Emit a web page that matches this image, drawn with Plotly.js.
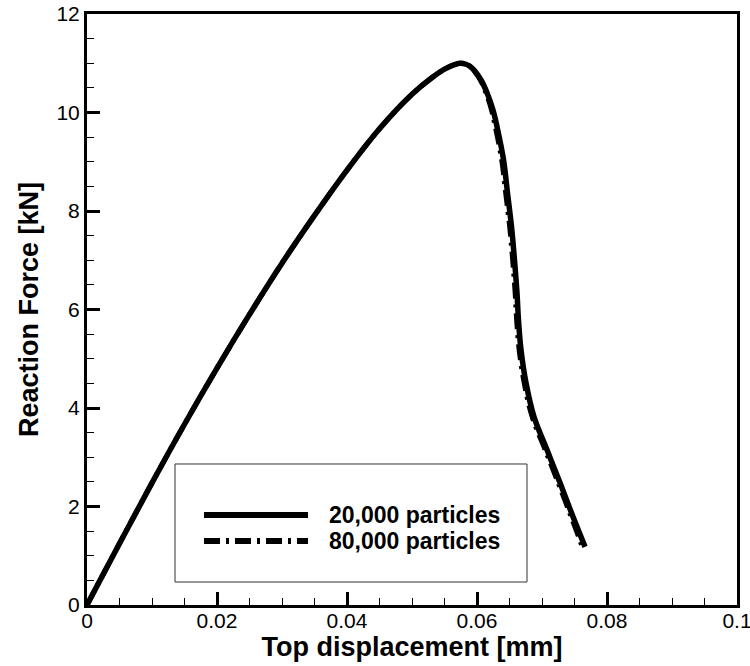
<!DOCTYPE html>
<html>
<head>
<meta charset="utf-8">
<script src="https://cdn.plot.ly/plotly-3.0.1.min.js"></script>
<style>
  html, body { margin: 0; padding: 0; background: #ffffff; }
  #chart { width: 750px; height: 666px; }
</style>
</head>
<body>
<div id="chart"></div>
<script>
// Top displacement [mm] and reaction force [kN]
const seriesNames = ["20,000 particles", "80,000 particles"];

const disp20k = [0, 0.005, 0.01, 0.015, 0.02, 0.025, 0.03, 0.035, 0.04, 0.045, 0.05, 0.053, 0.055, 0.0565, 0.05738, 0.0583, 0.0590, 0.05954, 0.06062, 0.06154, 0.06246, 0.06308, 0.06408, 0.06469, 0.06531, 0.06577, 0.06615, 0.06638, 0.06677, 0.06754, 0.06877, 0.07077, 0.07277, 0.07477, 0.07662];
const force20k = [0, 1.25, 2.48, 3.67, 4.81, 5.90, 6.94, 7.91, 8.83, 9.67, 10.37, 10.70, 10.88, 10.97, 11.0, 10.98, 10.93, 10.86, 10.66, 10.40, 10.05, 9.71, 9.04, 8.37, 7.68, 7.0, 6.34, 5.79, 5.18, 4.51, 3.82, 3.15, 2.48, 1.79, 1.18];

const disp80k = [0, 0.005, 0.01, 0.015, 0.02, 0.025, 0.03, 0.035, 0.04, 0.045, 0.05, 0.053, 0.055, 0.0565, 0.05738, 0.0583, 0.0590, 0.05950, 0.06052, 0.06138, 0.06224, 0.06282, 0.06380, 0.06441, 0.06503, 0.06549, 0.06587, 0.06610, 0.06649, 0.06726, 0.06849, 0.07049, 0.07249, 0.07449, 0.07635];
const force80k = [0, 1.25, 2.48, 3.67, 4.81, 5.90, 6.94, 7.91, 8.83, 9.67, 10.37, 10.70, 10.88, 10.97, 11.0, 10.98, 10.93, 10.86, 10.66, 10.40, 10.05, 9.71, 9.04, 8.37, 7.68, 7.0, 6.34, 5.79, 5.18, 4.51, 3.82, 3.15, 2.48, 1.79, 1.13];

const xTickVals = [0, 0.02, 0.04, 0.06, 0.08, 0.1];
const xTickText = ["0", "0.02", "0.04", "0.06", "0.08", "0.1"];
const yTickVals = [0, 2, 4, 6, 8, 10, 12];
const yTickText = ["0", "2", "4", "6", "8", "10", "12"];

const xTitle = "Top displacement [mm]";
const yTitle = "Reaction Force [kN]";

const FONT = "Arial, 'Liberation Sans', Helvetica, sans-serif";
const dashDot = "16px,6px,3px,6px";

const traces = [
  {
    x: disp80k, y: force80k, name: seriesNames[1], type: "scatter", mode: "lines",
    line: { color: "#000000", width: 5, dash: dashDot, shape: "spline", smoothing: 1 },
    showlegend: false, hoverinfo: "skip"
  },
  {
    x: disp20k, y: force20k, name: seriesNames[0], type: "scatter", mode: "lines",
    line: { color: "#000000", width: 5.5, shape: "spline", smoothing: 1 },
    showlegend: false, hoverinfo: "skip"
  }
];

// hand-made legend (box, sample lines, labels) in paper coordinates
const legendBox = { x0: 0.1354, x1: 0.6769, y0: 0.0389, y1: 0.2386 };
const legendRows = [0.1523, 0.1083];
const legendLineX = [0.18, 0.34];
const legendTextX = 0.3692;

const shapes = [
  { type: "rect", xref: "paper", yref: "paper", x0: legendBox.x0, x1: legendBox.x1, y0: legendBox.y0, y1: legendBox.y1,
    line: { color: "#333333", width: 1 }, fillcolor: "rgba(0,0,0,0)", layer: "above" },
  { type: "line", xref: "paper", yref: "paper", x0: legendLineX[0], x1: legendLineX[1], y0: legendRows[0], y1: legendRows[0],
    line: { color: "#000000", width: 6 } },
  { type: "line", xref: "paper", yref: "paper", x0: legendLineX[0], x1: legendLineX[1], y0: legendRows[1], y1: legendRows[1],
    line: { color: "#000000", width: 6, dash: dashDot } }
];

const annotations = seriesNames.map((name, i) => ({
  xref: "paper", yref: "paper", x: legendTextX, y: legendRows[i], xanchor: "left", yanchor: "middle",
  text: "<b>" + name + "</b>", showarrow: false, font: { family: FONT, size: 23, color: "#000000" }
}));

const axisCommon = {
  showline: true, linewidth: 3, linecolor: "#000000", mirror: true,
  showgrid: false, zeroline: false,
  ticks: "inside", ticklen: 13, tickwidth: 3, tickcolor: "#000000",
  tickmode: "array", ticklabeloverflow: "allow",
  tickfont: { family: FONT, size: 21, color: "#000000" }
};

const layout = {
  width: 750, height: 666,
  margin: { l: 87, r: 13, t: 14, b: 61 },
  paper_bgcolor: "#ffffff", plot_bgcolor: "#ffffff",
  font: { family: FONT, color: "#000000" },
  showlegend: false,
  xaxis: Object.assign({}, axisCommon, {
    range: [0, 0.1], tickvals: xTickVals, ticktext: xTickText, ticklabelstandoff: -5,
    minor: { dtick: 0.005, tick0: 0, ticks: "inside", ticklen: 7, tickwidth: 1, tickcolor: "#000000", showgrid: false },
    title: { text: "<b>" + xTitle + "</b>", font: { family: FONT, size: 27, color: "#000000" }, standoff: 0 }
  }),
  yaxis: Object.assign({}, axisCommon, {
    range: [0, 12], tickvals: yTickVals, ticktext: yTickText,
    minor: { dtick: 0.5, tick0: 0, ticks: "inside", ticklen: 7, tickwidth: 1, tickcolor: "#000000", showgrid: false },
    title: { text: "<b>" + yTitle + "</b>", font: { family: FONT, size: 27, color: "#000000" }, standoff: 10 }
  }),
  shapes: shapes,
  annotations: annotations
};

Plotly.newPlot("chart", traces, layout, { displayModeBar: false, staticPlot: true });
</script>
</body>
</html>
